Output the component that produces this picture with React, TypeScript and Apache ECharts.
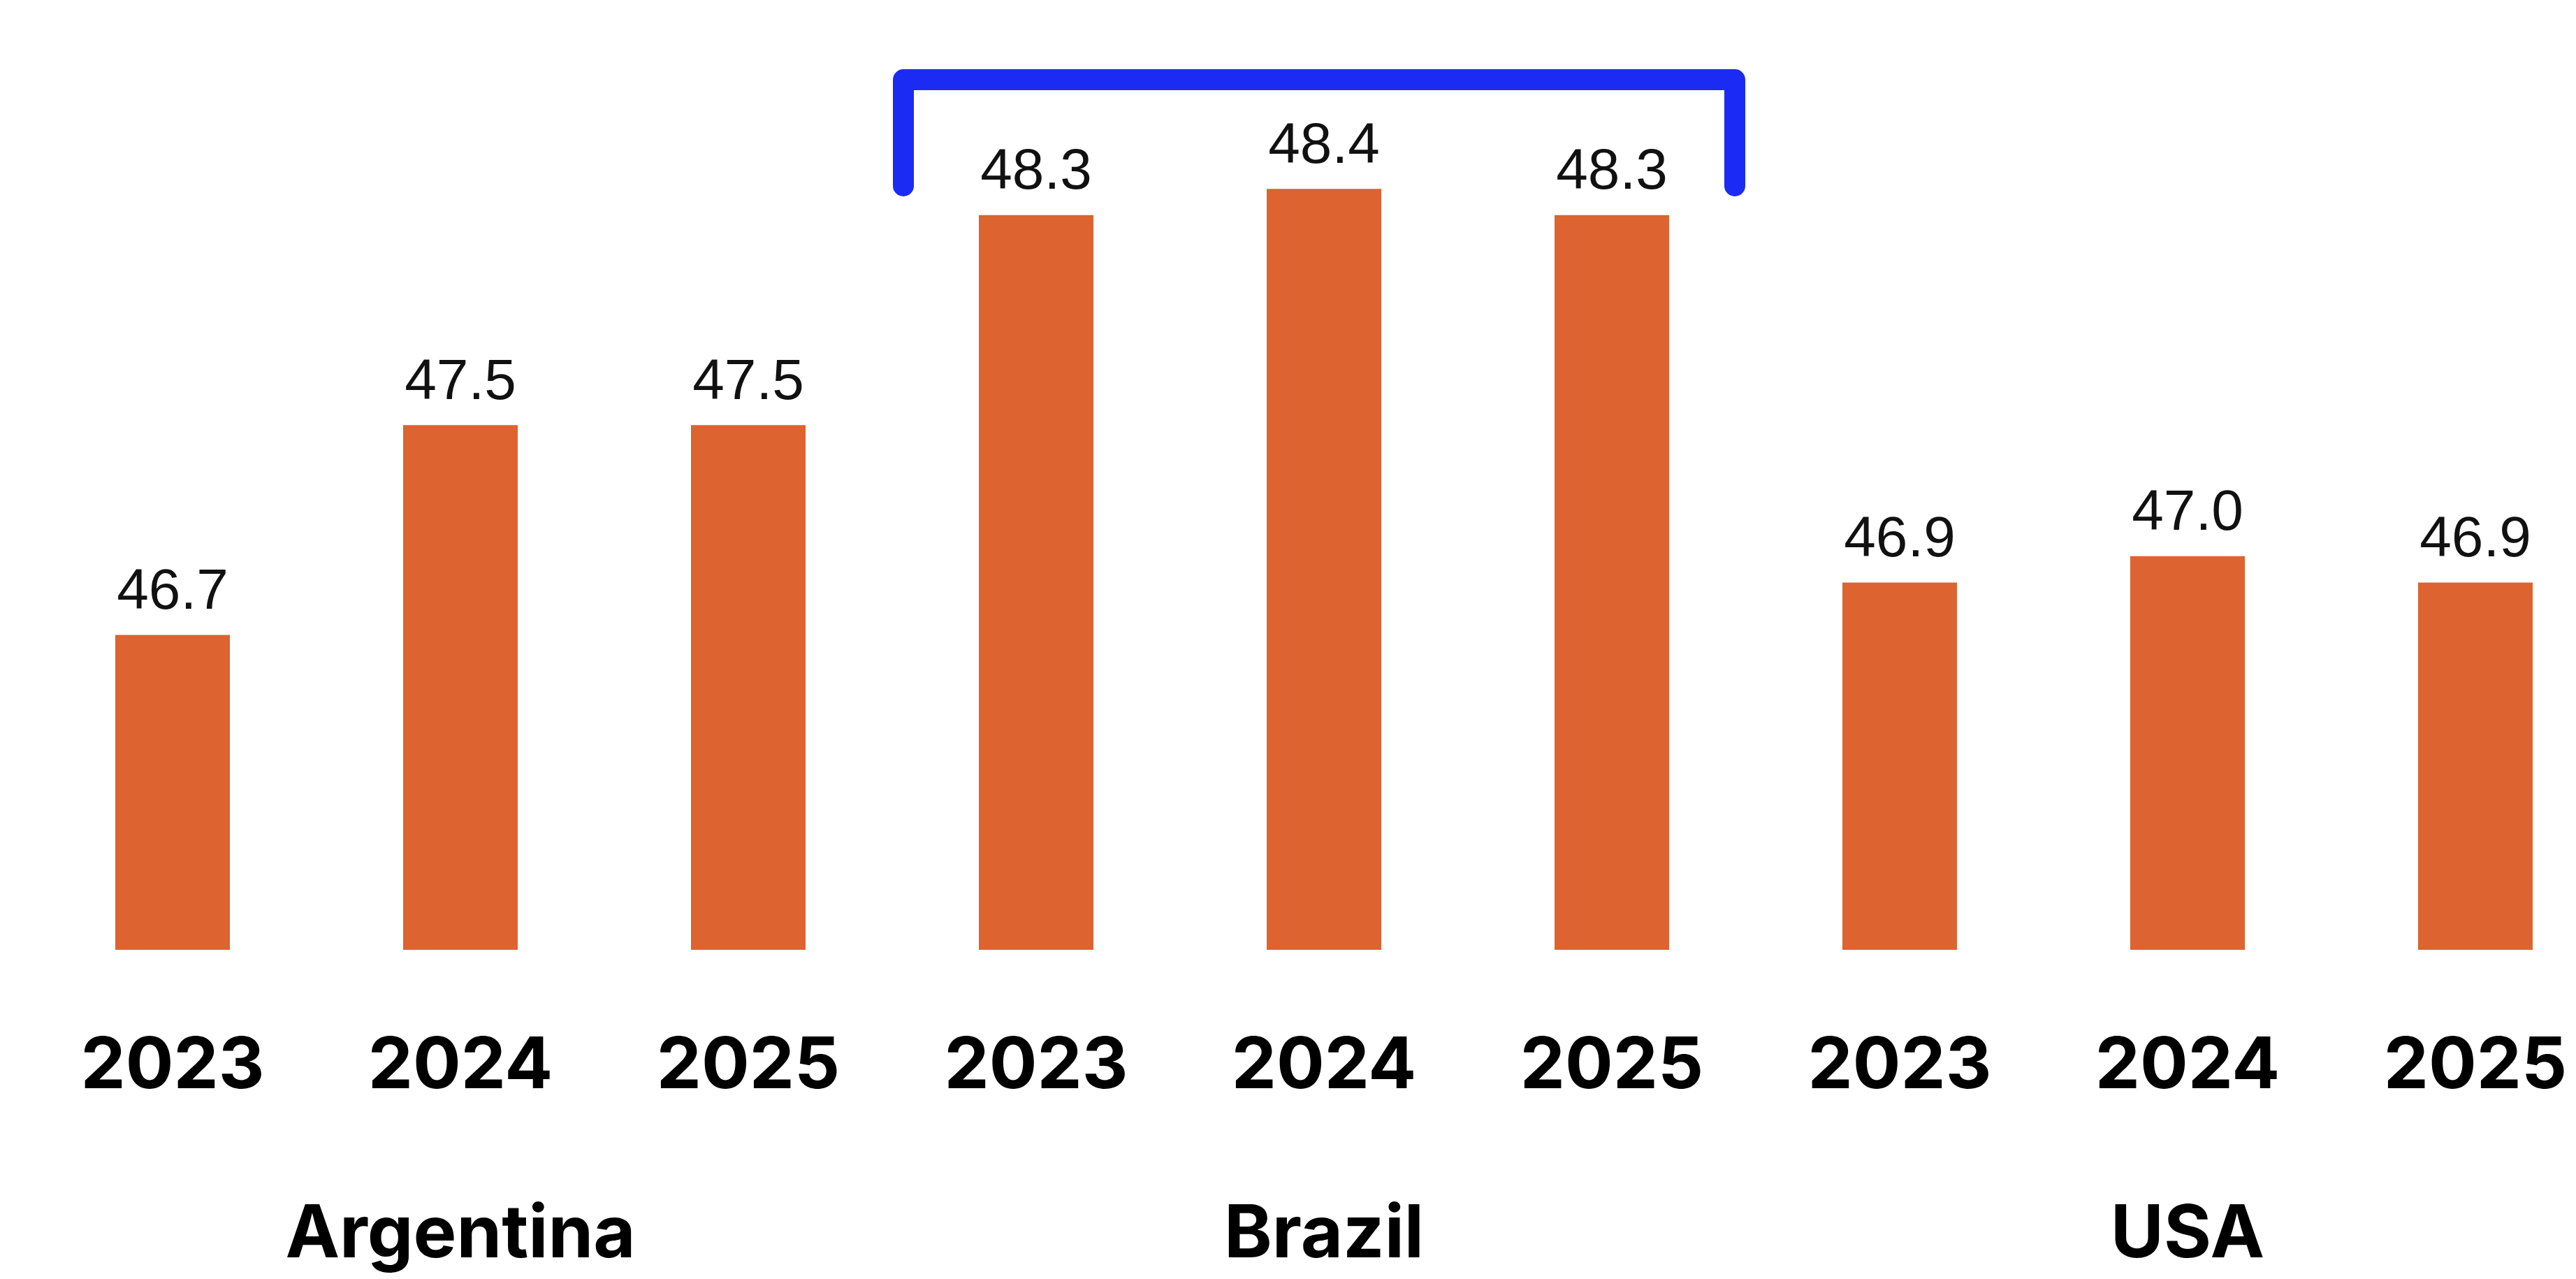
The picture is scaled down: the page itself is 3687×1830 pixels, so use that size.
import React, { useEffect, useRef } from "react";
import * as echarts from "echarts";

const years = ["2023", "2024", "2025", "2023", "2024", "2025", "2023", "2024", "2025"];
const countries = ["Argentina", "Brazil", "USA"];
const values = [46.7, 47.5, 47.5, 48.3, 48.4, 48.3, 46.9, 47.0, 46.9];
const highlightGroup = [3, 5]; // Brazil bars (first and last index)

const CHART_W = 3749; // plot extends slightly past the visible page on the right
const CHART_H = 1830;

export default function App() {
  const ref = useRef<HTMLDivElement>(null);

  useEffect(() => {
    document.body.style.margin = "0";
    document.body.style.overflow = "hidden";
    document.documentElement.style.overflow = "hidden";
    if (!ref.current) return;
    const chart = echarts.init(ref.current, null, { renderer: "svg" });
    const labelFont = "Inter, 'Noto Sans', sans-serif";
    chart.setOption({
      animation: false,
      backgroundColor: "#ffffff",
      grid: { left: 41, top: 45, right: 0, bottom: 471, containLabel: false },
      xAxis: [
        {
          type: "category",
          data: years,
          position: "bottom",
          axisLine: { show: false },
          axisTick: { show: false },
          splitLine: { show: false },
          axisLabel: {
            interval: 0,
            margin: 110,
            fontSize: 102,
            fontWeight: 700,
            fontFamily: labelFont,
            color: "#000000",
          },
        },
        {
          type: "category",
          data: countries,
          position: "bottom",
          axisLine: { show: false },
          axisTick: { show: false },
          splitLine: { show: false },
          axisLabel: {
            interval: 0,
            margin: 354,
            fontSize: 104,
            lineHeight: 96,
            fontWeight: 700,
            fontFamily: labelFont,
            color: "#000000",
          },
        },
      ],
      yAxis: {
        type: "value",
        min: 45.5,
        max: 49,
        show: false,
        splitLine: { show: false },
      },
      series: [
        {
          type: "bar",
          xAxisIndex: 0,
          data: values,
          barWidth: 164,
          itemStyle: { color: "#DD6330" },
          label: {
            show: true,
            position: "top",
            distance: 25,
            fontSize: 82,
            fontFamily: "'Liberation Sans', Arial, sans-serif",
            color: "#111111",
            formatter: (p: any) => Number(p.value).toFixed(1),
          },
        },
      ],
    });

    const c0 = chart.convertToPixel({ xAxisIndex: 0 }, highlightGroup[0]) as number;
    const c1 = chart.convertToPixel({ xAxisIndex: 0 }, highlightGroup[1]) as number;
    const band = (CHART_W - 41) / years.length;
    const xl = c0 - band / 2 + 16;
    const xr = c1 + band / 2 - 30;
    const yTop = 114;
    const yBottom = 266;
    chart.setOption({
      graphic: [
        {
          type: "polyline",
          shape: {
            points: [
              [xl, yBottom],
              [xl, yTop],
              [xr, yTop],
              [xr, yBottom],
            ],
          },
          style: {
            stroke: "#1B2BF3",
            lineWidth: 30,
            fill: null,
            lineCap: "round",
            lineJoin: "round",
          },
        },
      ],
    });

    return () => chart.dispose();
  }, []);

  return <div ref={ref} style={{ width: CHART_W, height: CHART_H }} />;
}
